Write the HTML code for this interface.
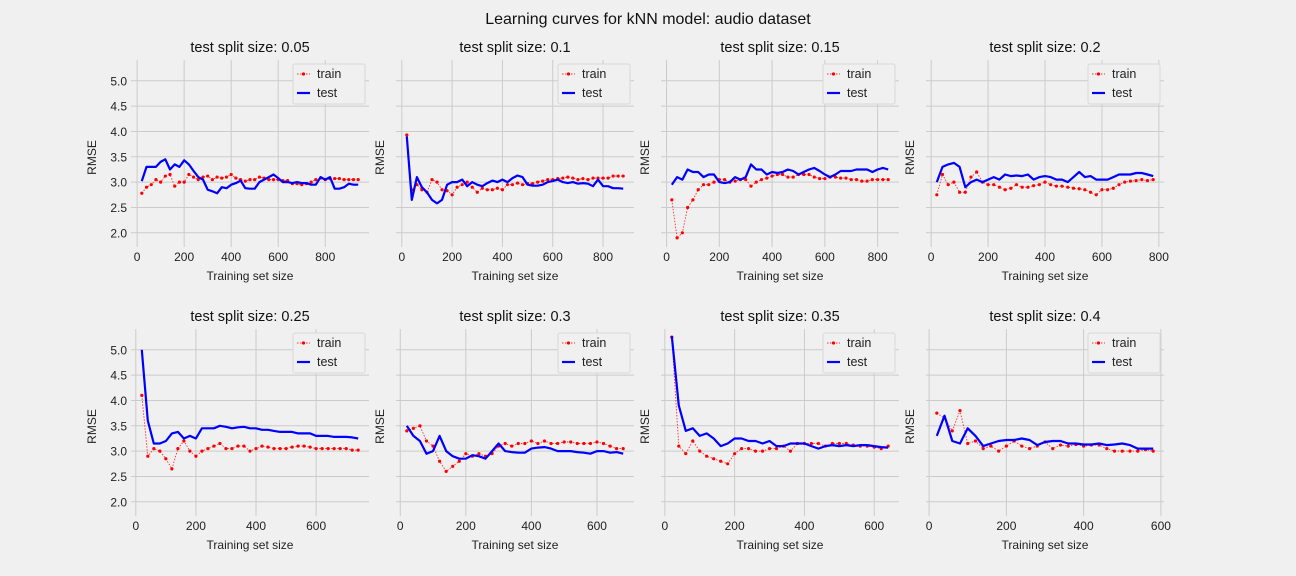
<!DOCTYPE html>
<html><head><meta charset="utf-8"><style>
body{margin:0;background:#f0f0f0;}
svg{display:block;font-family:"Liberation Sans","DejaVu Sans",sans-serif;}
</style></head><body>
<svg id="fig" width="1296" height="576" viewBox="0 0 1296 576">
<rect width="1296" height="576" fill="#f0f0f0"/>
<text x="648" y="24" text-anchor="middle" font-size="16" fill="#111">Learning curves for kNN model: audio dataset</text>
</svg>
<script>
const splitSizes = ["0.05","0.1","0.15","0.2","0.25","0.3","0.35","0.4"];
const xStart = 20;
const xStep = 20;
const yTicks = [2.0,2.5,3.0,3.5,4.0,4.5,5.0];
const xTicksTop = [0,200,400,600,800];
const xTicksBottom = [0,200,400,600];
const train1 = [2.78,2.9,2.95,3.05,3.0,3.12,3.15,2.92,3.0,3.0,3.15,3.1,3.05,3.1,3.12,3.05,3.1,3.08,3.1,3.15,3.08,3.05,3.02,3.05,3.05,3.1,3.08,3.05,3.05,3.05,3.03,3.03,2.97,2.97,2.95,2.97,3.0,3.05,3.08,3.05,3.07,3.07,3.07,3.05,3.05,3.05,3.05];
const test1 = [3.02,3.3,3.3,3.3,3.4,3.45,3.25,3.35,3.3,3.43,3.35,3.22,3.1,3.05,2.85,2.82,2.78,2.9,2.88,2.95,2.98,3.03,2.88,2.87,2.87,3.0,3.05,3.1,3.15,3.08,3.0,3.0,2.98,3.0,2.98,2.98,2.95,2.95,3.1,3.05,3.1,2.87,2.87,2.9,2.97,2.95,2.95];
const train2 = [3.93,2.85,2.95,2.85,2.8,3.05,3.0,2.85,2.83,2.75,2.9,2.95,3.0,2.9,2.8,2.88,2.85,2.85,2.88,2.85,2.95,2.95,2.98,2.95,2.97,2.97,3.0,3.02,3.05,3.05,3.07,3.08,3.1,3.08,3.05,3.07,3.05,3.08,3.08,3.08,3.08,3.12,3.12,3.12];
const test2 = [3.9,2.65,3.1,2.9,2.8,2.65,2.58,2.65,2.95,3.0,3.0,3.05,2.92,3.0,2.95,2.92,2.98,3.03,3.0,3.05,3.0,3.08,3.13,3.1,2.95,2.93,2.93,2.95,3.0,3.02,3.05,3.0,2.98,3.0,2.97,2.98,2.97,2.92,3.05,2.92,2.92,2.88,2.88,2.87];
const train3 = [2.65,1.9,2.0,2.5,2.65,2.85,2.95,2.95,3.0,3.05,3.05,3.0,3.02,3.05,3.05,2.92,3.0,3.05,3.08,3.12,3.15,3.15,3.1,3.1,3.15,3.15,3.15,3.1,3.07,3.07,3.1,3.1,3.08,3.08,3.05,3.05,3.02,3.02,3.05,3.05,3.05,3.05];
const test3 = [2.95,3.1,3.05,3.25,3.2,3.2,3.1,3.15,3.15,3.0,2.98,3.0,3.1,3.05,3.1,3.35,3.25,3.25,3.15,3.2,3.18,3.2,3.25,3.22,3.15,3.2,3.25,3.28,3.22,3.15,3.1,3.15,3.22,3.22,3.22,3.25,3.25,3.25,3.2,3.25,3.28,3.25];
const train4 = [2.75,3.15,2.95,3.0,2.8,2.8,3.1,3.2,3.0,2.95,2.95,2.9,2.85,2.88,2.95,2.9,2.9,2.93,2.95,3.0,2.95,2.92,2.92,2.9,2.88,2.87,2.85,2.8,2.75,2.85,2.85,2.88,2.95,3.0,3.02,3.03,3.05,3.03,3.05];
const test4 = [3.0,3.3,3.35,3.38,3.3,2.9,3.0,3.05,3.0,3.05,3.1,3.05,3.15,3.12,3.13,3.12,3.15,3.05,3.1,3.12,3.1,3.05,3.05,3.0,3.1,3.2,3.1,3.12,3.05,3.05,3.05,3.1,3.15,3.15,3.15,3.18,3.18,3.15,3.12];
const train5 = [4.1,2.9,3.05,3.0,2.85,2.65,3.05,3.2,3.0,2.9,3.0,3.05,3.1,3.15,3.05,3.05,3.1,3.1,3.0,3.05,3.1,3.08,3.05,3.05,3.05,3.08,3.1,3.1,3.08,3.05,3.05,3.05,3.05,3.05,3.05,3.02,3.02];
const test5 = [5.0,3.6,3.15,3.15,3.2,3.35,3.38,3.25,3.3,3.25,3.45,3.45,3.45,3.5,3.48,3.45,3.47,3.48,3.45,3.45,3.42,3.42,3.4,3.38,3.38,3.38,3.35,3.35,3.35,3.3,3.3,3.3,3.28,3.28,3.28,3.27,3.25];
const train6 = [3.4,3.45,3.5,3.2,3.1,2.8,2.6,2.7,2.8,2.95,2.9,2.95,2.9,2.95,3.1,3.15,3.1,3.15,3.15,3.2,3.15,3.2,3.15,3.15,3.18,3.18,3.15,3.15,3.15,3.18,3.15,3.1,3.05,3.05];
const test6 = [3.5,3.3,3.2,2.95,3.0,3.3,3.0,2.9,2.85,2.85,2.92,2.9,2.85,3.0,3.15,3.0,2.98,2.97,2.97,3.05,3.07,3.08,3.05,3.0,3.0,3.0,2.98,2.97,2.95,3.0,3.0,2.97,2.98,2.95];
const train7 = [5.25,3.1,2.95,3.2,3.0,2.9,2.85,2.8,2.75,2.95,3.05,3.05,3.0,3.0,3.05,3.05,3.1,3.0,3.15,3.15,3.15,3.15,3.1,3.15,3.15,3.15,3.12,3.1,3.1,3.08,3.05,3.1];
const test7 = [5.27,3.9,3.4,3.45,3.3,3.35,3.25,3.1,3.15,3.25,3.25,3.2,3.2,3.15,3.2,3.1,3.1,3.15,3.15,3.15,3.1,3.05,3.1,3.12,3.1,3.12,3.1,3.12,3.12,3.1,3.08,3.07];
const train8 = [3.75,3.65,3.4,3.8,3.15,3.2,3.05,3.1,3.0,3.1,3.2,3.1,3.05,3.1,3.18,3.05,3.12,3.1,3.13,3.1,3.12,3.12,3.05,3.0,3.0,3.0,3.0,3.03,3.0];
const test8 = [3.3,3.7,3.2,3.15,3.45,3.3,3.1,3.15,3.2,3.22,3.22,3.25,3.22,3.12,3.18,3.2,3.2,3.15,3.15,3.13,3.13,3.15,3.12,3.13,3.15,3.12,3.05,3.05,3.05];

const trains = [train1,train2,train3,train4,train5,train6,train7,train8];
const tests = [test1,test2,test3,test4,test5,test6,test7,test8];
const NS = "http://www.w3.org/2000/svg";
const svg = document.getElementById('fig');
function mk(tag, attrs, parent){
  const e = document.createElementNS(NS, tag);
  for (const k in attrs) e.setAttribute(k, attrs[k]);
  parent.appendChild(e);
  return e;
}
const W = 238, H = 187, yLo = 1.72, yHi = 5.41;
for (let p = 0; p < 8; p++){
  const col = p % 4, row = Math.floor(p / 4);
  const L = 131 + col * 265, T = 60 + row * 269;
  const tr = trains[p], te = tests[p];
  const n = Math.max(tr.length, te.length);
  const xmin = xStart, xmax = xStart + (n - 1) * xStep;
  const span = xmax - xmin;
  const xLo = xmin - 0.05 * span, xHi = xmax + 0.05 * span;
  const sx = v => L + (v - xLo) / (xHi - xLo) * W;
  const sy = v => T + (yHi - v) / (yHi - yLo) * H;
  const g = mk('g', {}, svg);
  
  
  const xt = row === 0 ? xTicksTop : xTicksBottom;
  yTicks.forEach(v => {
    const l = mk('line', {x1:L, x2:L+W, y1:sy(v), y2:sy(v), stroke:'#cbcbcb', 'stroke-width':1}, g);
    
    
    if (col === 0){
      const t = mk('text', {x:L-4, y:sy(v)+4.5, 'text-anchor':'end', 'font-size':12, fill:'#222'}, g);
      
      
      t.textContent = v.toFixed(1);
    }
  });
  xt.forEach(v => {
    if (v < xLo || v > xHi + 1) return;
    const l = mk('line', {x1:sx(v), x2:sx(v), y1:T, y2:T+H, stroke:'#cbcbcb', 'stroke-width':1}, g);
    
    
    const t = mk('text', {x:sx(v), y:T+H+14, 'text-anchor':'middle', 'font-size':12, fill:'#222'}, g);
    
    
    t.textContent = v;
  });
  const tt = mk('text', {x:L+W/2, y:T-8, 'text-anchor':'middle', 'font-size':14.5, fill:'#111'}, g);
  
  
  tt.textContent = 'test split size: ' + splitSizes[p];
  const xl = mk('text', {x:L+W/2, y:T+H+33, 'text-anchor':'middle', 'font-size':12, fill:'#222'}, g);
  
  
  xl.textContent = 'Training set size';
  const yx = col === 0 ? L - 35 : L - 12, yy = T + H/2 + 4;
  const yl = mk('text', {x:yx, y:yy, 'text-anchor':'middle', 'font-size':12, fill:'#222', transform:'rotate(-90 '+yx+' '+yy+')'}, g);
  
  
  yl.textContent = 'RMSE';
  const trPts = tr.map((v,i) => sx(xStart + i*xStep).toFixed(1) + ',' + sy(v).toFixed(1)).join(' ');
  const tePts = te.map((v,i) => sx(xStart + i*xStep).toFixed(1) + ',' + sy(v).toFixed(1)).join(' ');
  const trl = mk('polyline', {points:trPts, fill:'none', stroke:'#ff3030', 'stroke-width':0.9, 'stroke-dasharray':'1.5,1.5'}, g);
  
  
  tr.forEach((v,i) => {
    const c = mk('circle', {cx:sx(xStart + i*xStep), cy:sy(v), r:1.6, fill:'#ff0000'}, g);
    
    
  });
  const tel = mk('polyline', {points:tePts, fill:'none', stroke:'#0000ff', 'stroke-width':2.2, 'stroke-linejoin':'round'}, g);
  
  
  const lg = mk('g', {}, g);
  
  
  const bx = L + W - 76, by = T + 4;
  mk('rect', {x:bx, y:by, width:72, height:40, rx:2, fill:'#f0f0f0', stroke:'#d8d8d8', 'stroke-width':1}, lg);
  mk('line', {x1:bx+4, x2:bx+17, y1:by+10, y2:by+10, stroke:'#ff3030', 'stroke-width':0.9, 'stroke-dasharray':'1.5,1.5'}, lg);
  mk('circle', {cx:bx+10.5, cy:by+10, r:1.6, fill:'#ff0000'}, lg);
  const t1 = mk('text', {x:bx+24, y:by+14, 'font-size':12.5, fill:'#222'}, lg);
  
  
  t1.textContent = 'train';
  mk('line', {x1:bx+4, x2:bx+17, y1:by+29, y2:by+29, stroke:'#0000ff', 'stroke-width':2.2}, lg);
  const t2 = mk('text', {x:bx+24, y:by+33, 'font-size':12.5, fill:'#222'}, lg);
  
  
  t2.textContent = 'test';
}
</script>
</body></html>
